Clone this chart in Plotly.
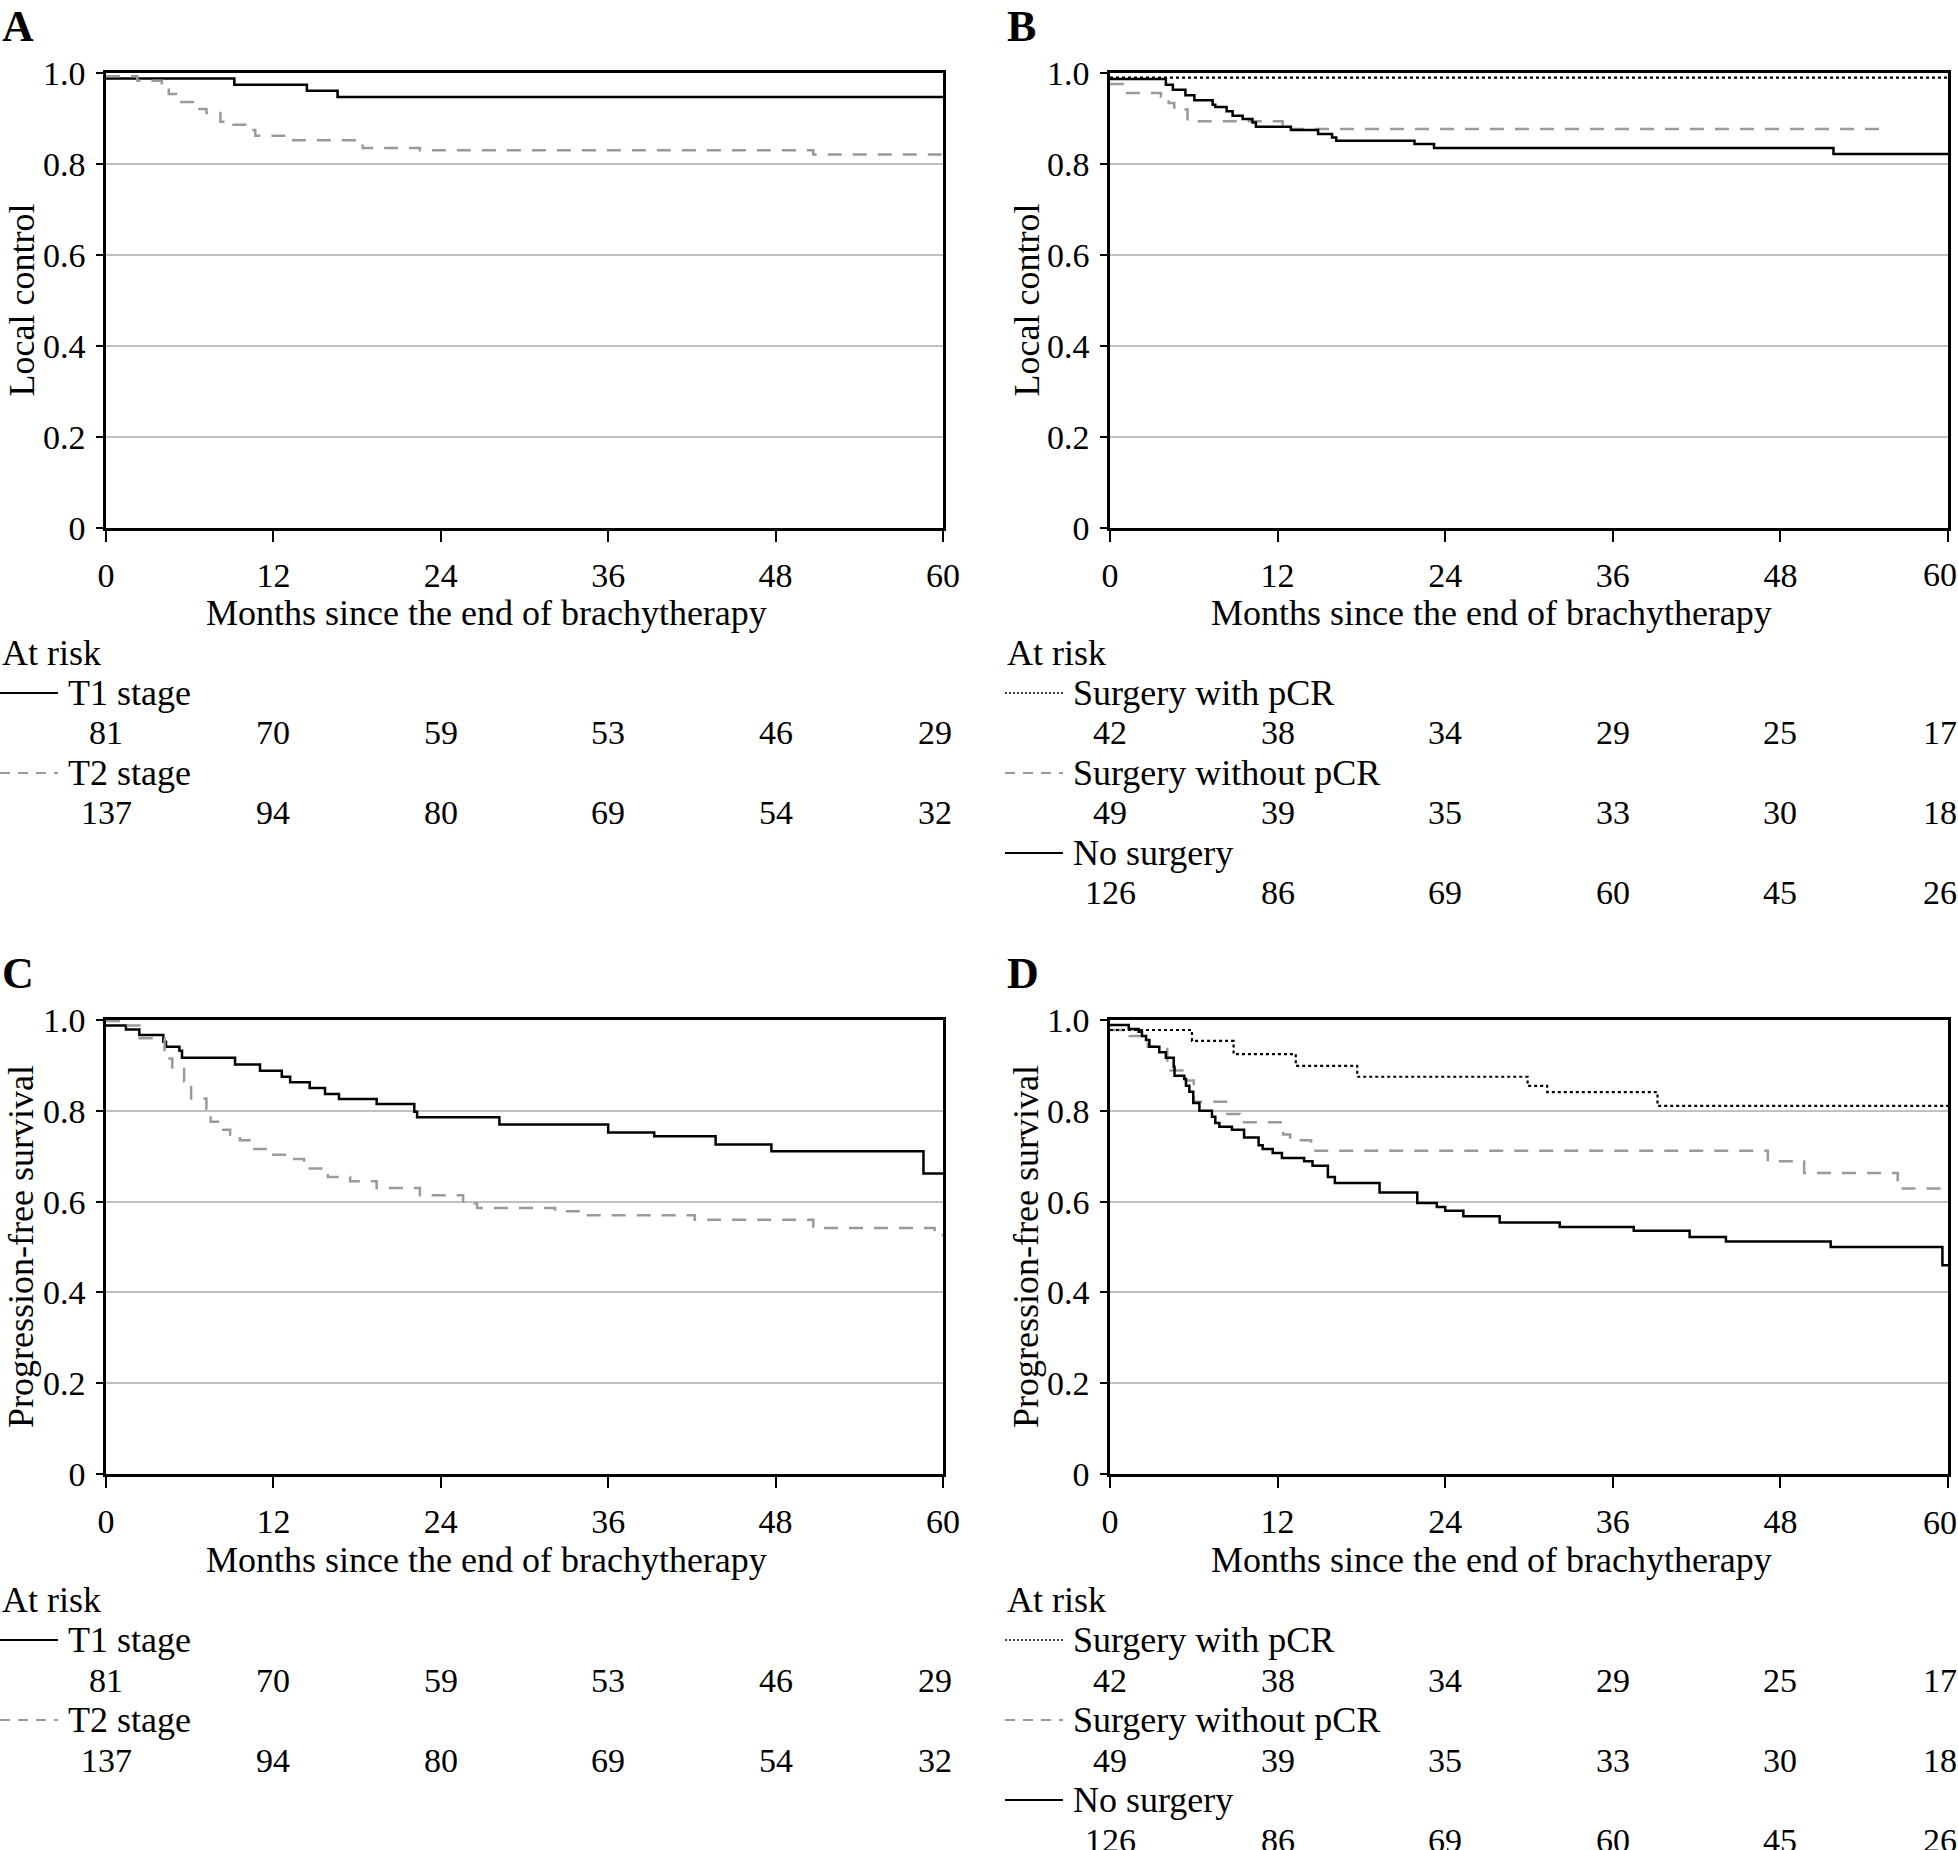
import plotly.graph_objects as go

W, H = 1958, 1850
FONT = "Liberation Serif"
FS = 34      # numbers
FSW = 36     # words
BLACK = "#000000"
GREY = "#9a9a9a"

# ---------------- data ----------------
months_ticks = [0, 12, 24, 36, 48, 60]
month_labels = ["0", "12", "24", "36", "48", "60"]
y_ticks = [0, 0.2, 0.4, 0.6, 0.8, 1.0]
y_tick_text = ["0", "0.2", "0.4", "0.6", "0.8", "1.0"]

# Panel A: local control by T stage
A_T1_t = [0, 9.2, 14.4, 16.6, 60]
A_T1_s = [0.988, 0.974, 0.961, 0.947, 0.947]
A_T2_t = [0, 2.25, 4.0, 4.5, 5.4, 6.7, 7.2, 8.2, 8.8, 10.3, 10.7, 13.1, 18.4, 22.5, 50.7, 60]
A_T2_s = [0.993, 0.983, 0.969, 0.954, 0.936, 0.921, 0.912, 0.893, 0.886, 0.875, 0.862, 0.852, 0.835, 0.830, 0.821, 0.821]

# Panel B: local control by surgery group
B_pCR_t = [0, 60]
B_pCR_s = [0.990, 0.990]
B_noPCR_t = [0, 0.9, 3.65, 4.2, 4.6, 5.55, 12.36, 55.8]
B_noPCR_s = [0.976, 0.956, 0.948, 0.934, 0.920, 0.894, 0.877, 0.877]
B_noSurg_t = [0, 4.0, 4.5, 5.4, 6.04, 7.35, 7.54, 8.35, 8.78, 9.5, 10.2, 10.45, 12.95, 14.9, 15.9, 16.2, 21.8, 23.2, 51.8, 60]
B_noSurg_s = [0.987, 0.974, 0.963, 0.951, 0.940, 0.930, 0.925, 0.916, 0.906, 0.899, 0.891, 0.882, 0.875, 0.866, 0.858, 0.851, 0.844, 0.835, 0.822, 0.822]

# Panel C: progression-free survival by T stage
C_T1_t = [0, 1.43, 2.39, 4.11, 4.3, 5.26, 5.45, 9.25, 11.04, 12.6, 13.2, 14.6, 15.7, 16.7, 19.4, 22.1, 22.3, 28.2, 36.0, 39.3, 43.7, 47.7, 58.6, 60]
C_T1_s = [0.988, 0.979, 0.967, 0.952, 0.941, 0.932, 0.917, 0.902, 0.888, 0.875, 0.863, 0.850, 0.837, 0.826, 0.815, 0.798, 0.786, 0.770, 0.752, 0.744, 0.726, 0.711, 0.662, 0.662]
C_T2_t = [0, 1.43, 2.4, 4.2, 4.75, 5.6, 6.1, 7.2, 7.5, 8.2, 8.9, 9.6, 10.4, 11.9, 13.0, 14.2, 15.9, 17.5, 19.4, 22.5, 25.6, 26.6, 32.2, 34.1, 42.2, 50.7, 59.4, 60]
C_T2_s = [0.998, 0.988, 0.960, 0.915, 0.896, 0.865, 0.827, 0.804, 0.776, 0.758, 0.747, 0.735, 0.716, 0.703, 0.694, 0.673, 0.654, 0.645, 0.630, 0.614, 0.596, 0.586, 0.579, 0.570, 0.560, 0.542, 0.526, 0.526]

# Panel D: progression-free survival by surgery group
D_pCR_t = [0, 5.87, 8.85, 13.3, 17.7, 29.9, 31.3, 39.2, 60]
D_pCR_s = [0.978, 0.954, 0.925, 0.899, 0.875, 0.855, 0.841, 0.811, 0.811]
D_noPCR_t = [0, 1.4, 2.7, 4.1, 5.3, 6.0, 8.4, 9.3, 12.4, 12.9, 14.4, 47.1, 49.7, 56.4, 60]
D_noPCR_s = [0.978, 0.965, 0.941, 0.889, 0.867, 0.820, 0.793, 0.775, 0.748, 0.735, 0.712, 0.689, 0.663, 0.629, 0.629]
D_noSurg_t = [0, 1.34, 2.05, 2.29, 2.58, 2.82, 3.53, 4.0, 4.56, 4.62, 5.32, 5.44, 5.68, 5.96, 6.4, 7.3, 7.54, 7.83, 8.73, 9.6,
              10.64, 10.93, 11.65, 12.31, 13.9, 14.5, 15.6, 16.1, 19.3, 22.0, 23.4, 24.0, 25.3, 27.9, 32.2, 37.5, 41.5, 44.1, 51.6, 59.6, 60]
D_noSurg_s = [0.989, 0.980, 0.974, 0.965, 0.956, 0.941, 0.929, 0.917, 0.897, 0.877, 0.870, 0.855, 0.842, 0.817, 0.800, 0.787, 0.773, 0.765, 0.758, 0.741,
              0.724, 0.716, 0.707, 0.696, 0.689, 0.679, 0.654, 0.641, 0.620, 0.597, 0.588, 0.580, 0.568, 0.554, 0.544, 0.536, 0.522, 0.512, 0.500, 0.460, 0.460]

# Numbers at risk
stage_groups = ["T1 stage", "T2 stage"]
stage_at_risk = [[81, 70, 59, 53, 46, 29], [137, 94, 80, 69, 54, 32]]
surg_groups = ["Surgery with pCR", "Surgery without pCR", "No surgery"]
surg_at_risk = [[42, 38, 34, 29, 25, 17], [49, 39, 35, 33, 30, 18], [126, 86, 69, 60, 45, 26]]

# ---------------- styles ----------------
STY = {
    "solid": dict(color=BLACK, width=2.5, dash="solid"),
    "dash": dict(color=GREY, width=2.5, dash="14px,11px"),
    "dot": dict(color=BLACK, width=2.2, dash="3px,3px"),
}
LEG_STY = {
    "solid": dict(color=BLACK, width=2, dash="solid"),
    "dash": dict(color=GREY, width=2, dash="10px,8px"),
    "dot": dict(color=BLACK, width=1.6, dash="2px,2px"),
}


def px(x):
    return x / W


def py(y):
    return 1 - y / H


# panel geometry in pixels: left, right, top, bottom
panels = {
    "A": dict(ax="", l=106, r=943, t=73, b=528, lx=0, ylab="Local control", edge=False,
              series=[(A_T1_t, A_T1_s, "solid"), (A_T2_t, A_T2_s, "dash")],
              groups=stage_groups, risk=stage_at_risk, gsty=["solid", "dash"]),
    "B": dict(ax="2", l=1110, r=1948, t=73, b=528, lx=1005, ylab="Local control", edge=True,
              series=[(B_noPCR_t, B_noPCR_s, "dash"), (B_noSurg_t, B_noSurg_s, "solid"), (B_pCR_t, B_pCR_s, "dot")],
              groups=surg_groups, risk=surg_at_risk, gsty=["dot", "dash", "solid"]),
    "C": dict(ax="3", l=106, r=943, t=1020, b=1474, lx=0, ylab="Progression-free survival", edge=False,
              series=[(C_T1_t, C_T1_s, "solid"), (C_T2_t, C_T2_s, "dash")],
              groups=stage_groups, risk=stage_at_risk, gsty=["solid", "dash"]),
    "D": dict(ax="4", l=1110, r=1948, t=1020, b=1474, lx=1005, ylab="Progression-free survival", edge=True,
              series=[(D_noPCR_t, D_noPCR_s, "dash"), (D_noSurg_t, D_noSurg_s, "solid"), (D_pCR_t, D_pCR_s, "dot")],
              groups=surg_groups, risk=surg_at_risk, gsty=["dot", "dash", "solid"]),
}

fig = go.Figure()
annotations = []
shapes = []
layout_axes = {}

for name, p in panels.items():
    ax = p["ax"]
    xref = "x" + ax
    yref = "y" + ax
    off = p["t"] - 73  # vertical offset for lower panels
    for t, s, sty in p["series"]:
        fig.add_trace(go.Scatter(x=t, y=s, mode="lines", line=dict(shape="hv", **STY[sty]),
                                 xaxis=xref, yaxis=yref, showlegend=False, hoverinfo="skip"))
    ticktext = list(month_labels)
    if p["edge"]:
        # right-most label drawn as annotation so it stays inside the page
        ticktext[-1] = ""
        annotations.append(dict(text=month_labels[-1], x=months_ticks[-1], xref=xref, y=py(off + 575),
                                yref="paper", xanchor="center", yanchor="middle", xshift=-8, showarrow=False,
                                font=dict(family=FONT, size=FS, color=BLACK)))
    layout_axes["xaxis" + ax] = dict(
        domain=[px(p["l"]), px(p["r"])], anchor=yref, range=[0, 60], automargin=False,
        tickvals=months_ticks, ticktext=ticktext, ticks="outside", ticklen=11, tickwidth=2, tickcolor=BLACK,
        showline=True, linecolor=BLACK, linewidth=2.5, mirror=True,
        showgrid=False, zeroline=False, ticklabelstandoff=4, ticklabeloverflow="allow",
        tickfont=dict(family=FONT, size=FS, color=BLACK),
    )
    layout_axes["yaxis" + ax] = dict(
        domain=[py(p["b"]), py(p["t"])], anchor=xref, range=[0, 1], automargin=False,
        tickvals=y_ticks, ticktext=y_tick_text, ticks="outside", ticklen=7, tickwidth=2, tickcolor=BLACK,
        showline=True, linecolor=BLACK, linewidth=2.5, mirror=True,
        showgrid=True, gridcolor="#c0c0c0", gridwidth=2, zeroline=False, ticklabelstandoff=4,
        tickfont=dict(family=FONT, size=FS, color=BLACK),
    )
    # panel letter
    annotations.append(dict(text="<b>%s</b>" % name, x=px(p["lx"]), y=py(off + 27), xref="paper", yref="paper",
                            xanchor="left", yanchor="middle", showarrow=False,
                            font=dict(family=FONT, size=44, color=BLACK)))
    # x-axis title
    annotations.append(dict(text="Months since the end of brachytherapy", x=px((p["l"] + p["r"]) / 2 - 38),
                            y=py(off + 613), xref="paper", yref="paper", xanchor="center", yanchor="middle",
                            showarrow=False, font=dict(family=FONT, size=FSW, color=BLACK)))
    # y-axis title
    annotations.append(dict(text=p["ylab"], x=px(p["lx"] + 21), y=py((p["t"] + p["b"]) / 2),
                            xref="paper", yref="paper", xanchor="center", yanchor="middle", textangle=-90,
                            showarrow=False, font=dict(family=FONT, size=FSW, color=BLACK)))
    # at risk table
    annotations.append(dict(text="At risk", x=px(p["lx"]), y=py(off + 653), xref="paper", yref="paper",
                            xanchor="left", yanchor="middle", showarrow=False,
                            font=dict(family=FONT, size=FSW, color=BLACK)))
    for gi, (g, counts, gs) in enumerate(zip(p["groups"], p["risk"], p["gsty"])):
        ylab = off + 693 + 80 * gi
        ynum = off + 733 + 80 * gi
        shapes.append(dict(type="line", xref="paper", yref="paper", x0=px(p["lx"]), x1=px(p["lx"] + 58),
                           y0=py(ylab), y1=py(ylab), line=LEG_STY[gs]))
        annotations.append(dict(text=g, x=px(p["lx"] + 66), y=py(ylab), xref="paper", yref="paper",
                                xanchor="left", yanchor="middle", showarrow=False,
                                font=dict(family=FONT, size=FSW, color=BLACK)))
        for k, (m, c) in enumerate(zip(months_ticks, counts)):
            annotations.append(dict(text=str(c), x=m, xref=xref, y=py(ynum), yref="paper",
                                    xanchor="center", yanchor="middle", showarrow=False,
                                    xshift=(-8 if k == len(counts) - 1 else 0),
                                    font=dict(family=FONT, size=FS, color=BLACK)))

fig.update_layout(
    width=W, height=H, autosize=False,
    margin=dict(l=0, r=0, t=0, b=0, autoexpand=False),
    paper_bgcolor="white", plot_bgcolor="white",
    annotations=annotations, shapes=shapes,
    showlegend=False,
    **layout_axes,
)

fig.write_html("out.html", config={"displayModeBar": False},
               post_script="document.body.style.margin='0px';document.body.style.overflow='hidden';")
